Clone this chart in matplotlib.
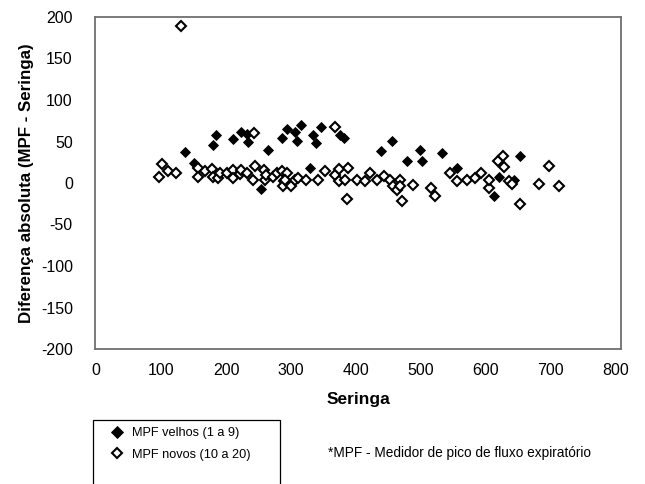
import matplotlib
matplotlib.use('Agg')
import matplotlib.pyplot as plt
from matplotlib.patches import Rectangle

plt.rcParams['font.family'] = ['Liberation Sans', 'DejaVu Sans']
plt.rcParams['axes.unicode_minus'] = False

# MPF velhos (1 a 9)
velhos_x = [137, 151, 179, 185, 210, 223, 232, 234, 253, 265, 286, 294, 306, 309,
            315, 329, 334, 338, 346, 375, 381, 438, 455, 479, 498, 501, 532, 555,
            612, 620, 643, 652]
velhos_y = [37, 24, 46, 58, 53, 61, 59, 50, -7, 40, 54, 65, 62, 51,
            70, 18, 58, 48, 68, 58, 54, 38, 51, 27, 40, 27, 36, 18,
            -16, 7, 4, 32]

# MPF novos (10 a 20)
novos_x = [97, 101, 110, 123, 130, 156, 157, 168, 178, 180, 188, 191, 201, 210,
           211, 221, 223, 232, 241, 243, 245, 258, 260, 262, 272, 278, 286, 289,
           288, 293, 291, 300, 306, 311, 323, 341, 352, 368, 368, 374, 373, 383,
           386, 388, 401, 414, 421, 433, 443, 452, 457, 463, 467, 468, 470, 488,
           516, 522, 545, 555, 571, 583, 593, 604, 605, 619, 626, 628, 636, 640,
           653, 681, 697, 713]
novos_y = [7, 23, 15, 12, 189, 18, 7, 14, 17, 7, 6, 12, 12, 16,
           6, 11, 16, 12, 4, 60, 21, 16, 4, 10, 7, 12, 14, 3,
           -4, 12, 4, -4, 4, 6, 4, 4, 14, 68, 10, 17, 3, 4,
           -19, 18, 4, 2, 12, 4, 8, 4, -4, -8, 4, -4, -22, -2,
           -6, -16, 12, 3, 4, 6, 12, -6, 4, 26, 32, 19, 2, -1,
           -25, -1, 20, -4]

x_ticks = [0, 100, 200, 300, 400, 500, 600, 700, 800]
y_ticks = [-200, -150, -100, -50, 0, 50, 100, 150, 200]

W, H = 645, 484
fig = plt.figure(figsize=(W / 100, H / 100), dpi=100)
ax = fig.add_axes([95 / W, 1 - 349 / H, (621 - 95) / W, (349 - 17) / H])

h1, = ax.plot(velhos_x, velhos_y, 'D', color='black', markersize=5,
              markeredgewidth=0.6, linestyle='none', label='MPF velhos (1 a 9)')
h2, = ax.plot(novos_x, novos_y, 'D', markerfacecolor='white', markeredgecolor='black',
              markersize=4.6, markeredgewidth=1.5, linestyle='none',
              label='MPF novos (10 a 20)')

ax.set_xlim(-2, 808)
ax.set_ylim(-200, 200)
ax.set_xticks(x_ticks)
ax.set_yticks(y_ticks)
ax.tick_params(length=0, labelsize=11.5)
ax.tick_params(axis='y', pad=16)
ax.tick_params(axis='x', pad=10)
for s in ax.spines.values():
    s.set_color('#707070')
    s.set_linewidth(1.3)

ax.set_xlabel('Seringa', fontsize=12.5, fontweight='bold', labelpad=10)
ax.set_ylabel('Diferença absoluta (MPF - Seringa)', fontsize=12.2,
              fontweight='bold', labelpad=5)

# legend box (cut off at the bottom of the figure)
fig.patches.append(Rectangle((93 / W, -0.05), (280 - 93) / W, 0.05 + (484 - 420) / H,
                             transform=fig.transFigure, fill=False,
                             edgecolor='black', linewidth=0.9))
fig.legend(handles=[h1, h2], loc='upper left', bbox_to_anchor=(97 / W, 1 - 417 / H),
           frameon=False, fontsize=9.2, handletextpad=0.4, labelspacing=0.75,
           handlelength=1.5, borderpad=0.3, markerscale=1.15)

fig.text(328 / W, 1 - 453 / H, '*MPF - Medidor de pico de fluxo expiratório',
         fontsize=9.8, va='center', ha='left')

fig.savefig('out.png', dpi=100)
